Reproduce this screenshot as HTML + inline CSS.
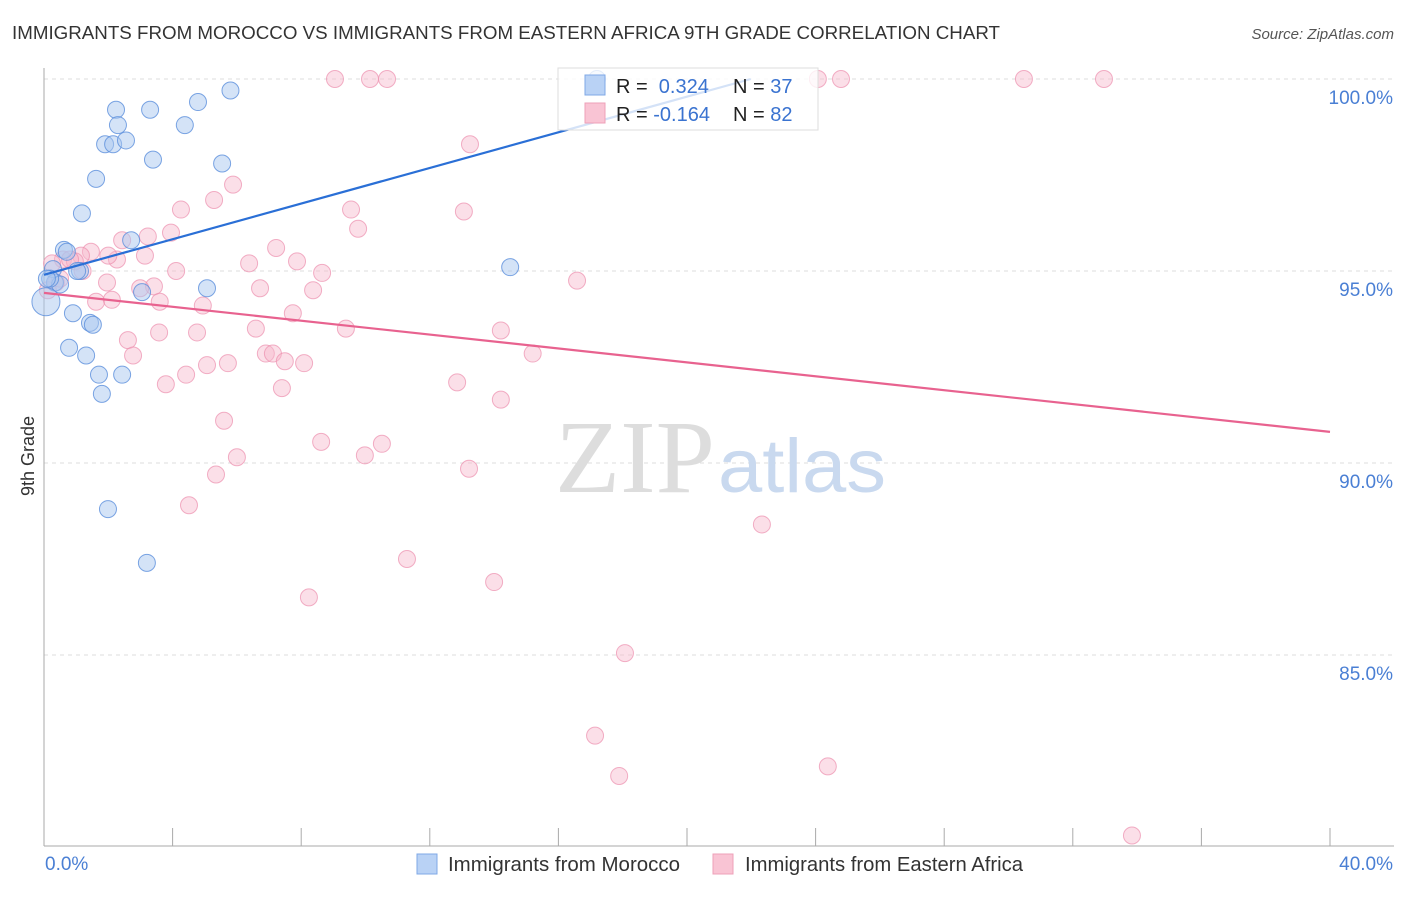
<!DOCTYPE html>
<html><head><meta charset="utf-8"><style>
body{margin:0;background:#fff;font-family:"Liberation Sans",sans-serif}
</style></head><body>
<svg width="1406" height="892" viewBox="0 0 1406 892" xmlns="http://www.w3.org/2000/svg">
<text x="12" y="39" font-size="18" fill="#333" textLength="988" lengthAdjust="spacingAndGlyphs">IMMIGRANTS FROM MOROCCO VS IMMIGRANTS FROM EASTERN AFRICA 9TH GRADE CORRELATION CHART</text>
<text x="1394" y="39" font-size="15" fill="#555" font-style="italic" text-anchor="end">Source: ZipAtlas.com</text>
<g id="grid"></g>
<text x="635" y="492" font-size="104" fill="#ddd" font-family="Liberation Serif" text-anchor="middle" textLength="160" lengthAdjust="spacingAndGlyphs">ZIP</text>
<text x="802" y="492" font-size="76" fill="#c9d9ef" text-anchor="middle" textLength="168" lengthAdjust="spacingAndGlyphs">atlas</text>
<line x1="44" y1="68" x2="44" y2="846" stroke="#aaa"/>
<line x1="44" y1="846" x2="1394" y2="846" stroke="#aaa"/>
<text transform="translate(34,456) rotate(-90)" font-size="18" fill="#333" text-anchor="middle">9th Grade</text>
<text x="45" y="870" font-size="19" fill="#4a7fd4">0.0%</text>
<text x="1393" y="870" font-size="19" fill="#4a7fd4" text-anchor="end">40.0%</text>
<g id="pts"></g>
<g id="lines"></g>
<g>
<rect x="558" y="68" width="260" height="62" fill="#fff" fill-opacity="0.8" stroke="#ddd"/>
<rect x="585" y="75" width="20" height="20" fill="#b9d2f5" stroke="#7fa8e6"/>
<rect x="585" y="103" width="20" height="20" fill="#f9c4d4" stroke="#eea0b8"/>
<text x="616" y="93" font-size="20" fill="#222">R = <tspan fill="#3a73d0">&#160;0.324</tspan></text>
<text x="733" y="93" font-size="20" fill="#222">N = <tspan fill="#3a73d0">37</tspan></text>
<text x="616" y="121" font-size="20" fill="#222">R = <tspan fill="#3a73d0">-0.164</tspan></text>
<text x="733" y="121" font-size="20" fill="#222">N = <tspan fill="#3a73d0">82</tspan></text>
</g>
<g>
<rect x="417" y="854" width="20" height="20" fill="#b9d2f5" stroke="#7fa8e6"/>
<text x="448" y="871" font-size="20" fill="#333" textLength="232" lengthAdjust="spacingAndGlyphs">Immigrants from Morocco</text>
<rect x="713" y="854" width="20" height="20" fill="#f9c4d4" stroke="#eea0b8"/>
<text x="745" y="871" font-size="20" fill="#333" textLength="278" lengthAdjust="spacingAndGlyphs">Immigrants from Eastern Africa</text>
</g>
</svg>
<script>
const yTicks=[100,95,90,85];
const xTicks=[0,4,8,12,16,20,24,28,32,36,40];
const blueX=[5.8,2.24,3.3,4.79,4.38,2.3,1.9,2.15,2.55,3.39,5.54,1.62,1.18,2.71,0.62,0.71,1.12,1.03,0.28,0.34,0.5,3.05,5.07,14.5,0.9,1.43,1.52,0.78,1.31,1.71,2.43,1.8,1.99,3.2,0.06,0.19,0.09,17.2];
const blueY=[99.7,99.2,99.2,99.4,98.8,98.8,98.3,98.3,98.4,97.9,97.8,97.4,96.5,95.8,95.55,95.5,95,95,95.05,94.7,94.65,94.45,94.55,95.1,93.9,93.65,93.6,93.0,92.8,92.3,92.3,91.8,88.8,87.4,94.2,94.8,94.8,100];
const pinkX=[9.05,10.14,10.67,24.07,24.79,30.48,32.97,13.25,5.88,5.29,4.26,9.55,13.06,9.77,3.23,3.95,2.43,1.46,2.27,1.15,3.14,0.59,0.96,6.38,7.22,7.87,4.11,8.65,16.58,1.96,3.42,6.72,8.37,2.99,1.62,2.11,4.94,7.74,6.59,9.39,14.21,3.58,4.76,2.61,2.77,6.9,7.12,7.49,8.09,5.72,5.07,15.2,4.42,3.79,12.85,7.4,14.21,5.6,8.62,10.51,6.0,9.98,5.35,13.22,4.51,22.33,11.29,14.0,8.24,18.07,17.14,17.89,24.38,33.84,0.25,0.37,0.12,0.5,0.81,1.2,2.0,3.6];
const pinkY=[100,100,100,100,100,100,100,98.3,97.25,96.85,96.6,96.6,96.55,96.1,95.9,96.0,95.8,95.5,95.3,95.4,95.4,95.3,95.25,95.2,95.6,95.25,95.0,94.95,94.75,94.7,94.6,94.55,94.5,94.55,94.2,94.25,94.1,93.9,93.5,93.5,93.45,93.4,93.4,93.2,92.8,92.85,92.85,92.65,92.6,92.6,92.55,92.85,92.3,92.05,92.1,91.95,91.65,91.1,90.55,90.5,90.15,90.2,89.7,89.85,88.9,88.4,87.5,86.9,86.5,85.05,82.9,81.85,82.1,80.3,95.2,94.7,94.5,94.8,95.3,95.0,95.4,94.2];
const blueFit=[94.9,0.232];
const pinkFit=[94.43,-0.0905];
const X=v=>44+v/40*1286, Y=v=>79+(100-v)*38.4;
const NS='http://www.w3.org/2000/svg';
function mk(tag,attrs,parent){const e=document.createElementNS(NS,tag);for(const k in attrs)e.setAttribute(k,attrs[k]);document.getElementById(parent).appendChild(e);return e;}
yTicks.forEach(t=>{
 const l=mk('line',{x1:44,x2:1394,y1:Y(t),y2:Y(t),stroke:'#ddd','stroke-dasharray':'4,4'},'grid');
 
 
 const tx=mk('text',{x:1393,y:Y(t)+25,'font-size':19,fill:'#4a7fd4','text-anchor':'end'},'grid');
 tx.textContent=t.toFixed(1)+'%';
 
 
});
xTicks.forEach((t,i)=>{if(i==0)return;
 const l=mk('line',{x1:X(t),x2:X(t),y1:828,y2:846,stroke:'#aaa'},'grid');
 
 
});
pinkX.forEach((v,i)=>{
 const c=mk('circle',{cx:X(v),cy:Y(pinkY[i]),r:8.5,fill:'#f7b8cb','fill-opacity':0.45,stroke:'#ec8fae','stroke-opacity':0.7},'pts');
 
 
});
blueX.forEach((v,i)=>{
 const c=mk('circle',{cx:X(v),cy:Y(blueY[i]),r:i==34?14:8.5,fill:'#a9c8f0','fill-opacity':0.5,stroke:'#5b8fdc','stroke-opacity':0.8},'pts');
 
 
});
const bx2=(100-blueFit[0])/blueFit[1];
const bl=mk('line',{x1:X(0),y1:Y(blueFit[0]),x2:X(bx2),y2:Y(100),stroke:'#2a6fd6','stroke-width':2.2},'lines');


const pl=mk('line',{x1:X(0),y1:Y(pinkFit[0]),x2:X(40),y2:Y(pinkFit[0]+40*pinkFit[1]),stroke:'#e8628f','stroke-width':2.2},'lines');


</script>
</body></html>
